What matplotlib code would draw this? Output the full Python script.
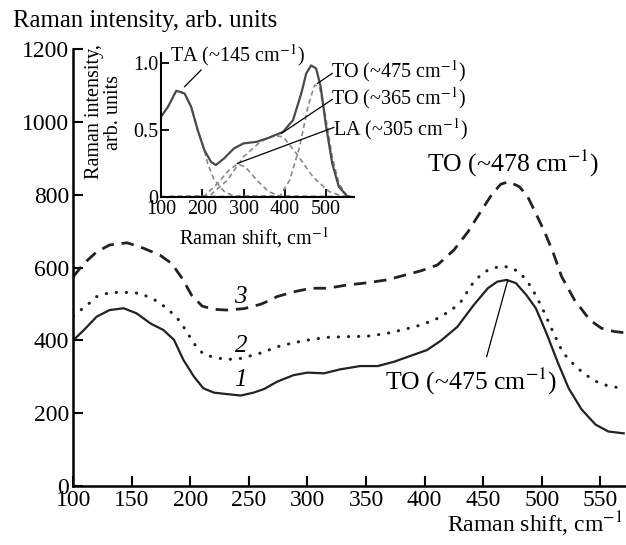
import matplotlib
matplotlib.use("Agg")
import matplotlib.pyplot as plt

plt.rcParams['font.family'] = 'serif'
plt.rcParams['font.serif'] = ['Liberation Serif', 'DejaVu Serif']
plt.rcParams['mathtext.fontset'] = 'stix'

# main spectra (Raman shift, intensity)
x1 = [100, 109, 120, 131, 143, 154, 166, 177, 186, 194, 203, 211, 220, 231, 243, 254, 263, 274,
      288, 300, 314, 328, 345, 360, 374, 388, 402, 414, 428, 442, 454, 462, 470, 478, 487, 495,
      504, 514, 523, 534, 546, 557, 570]
y1 = [400, 428, 465, 483, 488, 474, 446, 428, 401, 346, 300, 268, 256, 252, 248, 256, 266, 286,
      304, 311, 309, 320, 329, 329, 341, 357, 373, 399, 437, 497, 543, 561, 566, 557, 524, 488,
      420, 337, 268, 210, 168, 149, 144]

x2 = [100, 112, 120, 131, 143, 157, 169, 180, 189, 196, 203, 211, 220, 231, 243, 257, 263, 274,
      288, 303, 317, 334, 351, 368, 383, 397, 411, 423, 431, 443, 454, 465, 474, 482, 491, 500,
      509, 518, 527, 536, 547, 557, 565, 570]
y2 = [467, 497, 520, 531, 532, 529, 512, 488, 460, 428, 391, 362, 353, 347, 350, 362, 368, 382,
      393, 402, 408, 410, 411, 419, 430, 442, 460, 483, 506, 566, 593, 604, 600, 584, 547, 492,
      428, 366, 335, 308, 286, 274, 270, 268]

x3 = [100, 109, 120, 131, 146, 160, 174, 184, 193, 201, 210, 220, 231, 246, 260, 268, 274, 288,
      303, 317, 334, 351, 368, 383, 397, 411, 425, 437, 447, 457, 465, 472, 481, 488, 495, 503,
      510, 517, 528, 541, 551, 562, 570]
y3 = [575, 611, 643, 662, 668, 653, 634, 611, 570, 524, 494, 485, 483, 487, 499, 510, 520, 533,
      543, 543, 552, 558, 566, 579, 591, 607, 648, 698, 749, 799, 829, 836, 822, 795, 749, 694,
      639, 575, 511, 456, 433, 424, 421]

# inset: sum spectrum and its fitted components
xs = [100, 117, 137, 157, 173, 189, 205, 221, 233, 253, 277, 300, 332, 364, 396, 420, 440, 452,
      464, 476, 487, 499, 515, 531, 551, 560]
ys = [0.60, 0.675, 0.795, 0.775, 0.675, 0.50, 0.35, 0.262, 0.238, 0.288, 0.363, 0.40, 0.412,
      0.445, 0.487, 0.575, 0.775, 0.925, 0.985, 0.962, 0.825, 0.55, 0.25, 0.075, 0.005, 0.0]

x_ta = [100, 117, 137, 157, 173, 189, 205, 213, 229, 253, 277, 560]
y_ta = [0.60, 0.675, 0.795, 0.775, 0.675, 0.50, 0.35, 0.25, 0.125, 0.04, 0.005, 0]
x_la = [100, 205, 237, 265, 285, 304, 332, 360, 388, 560]
y_la = [0, 0.005, 0.10, 0.20, 0.245, 0.225, 0.125, 0.04, 0.005, 0]
x_to1 = [100, 217, 261, 300, 340, 372, 396, 428, 468, 507, 539, 560]
y_to1 = [0, 0.005, 0.125, 0.30, 0.41, 0.46, 0.45, 0.325, 0.15, 0.04, 0.005, 0]
x_to2 = [100, 388, 412, 436, 456, 472, 484, 499, 515, 531, 551, 560]
y_to2 = [0, 0.005, 0.125, 0.375, 0.675, 0.837, 0.825, 0.60, 0.30, 0.10, 0.005, 0]

main_xticks = [100, 150, 200, 250, 300, 350, 400, 450, 500, 550]
main_yticks = [0, 200, 400, 600, 800, 1000, 1200]
inset_xticks = [100, 200, 300, 400, 500]
inset_yticks = [0, 0.5, 1.0]
inset_yticklabels = ['0', '0.5', '1.0']

fig = plt.figure(figsize=(6.26, 5.45), dpi=100)
ax = fig.add_axes([0.1171, 0.1088, 0.8829, 0.8007])

ax.plot(x1, y1, color='#222222', lw=1.6, solid_joinstyle='round')
ax.plot(x2, y2, color='#222222', lw=2.2, linestyle=(0, (0.1, 3.2)), dash_capstyle='round')
ax.plot(x3, y3, color='#222222', lw=2.0, linestyle=(0, (4.5, 2.8)))

ax.set_xlim(100, 572)
ax.set_ylim(0, 1200)
ax.set_xticks(main_xticks)
ax.set_yticks(main_yticks)
for s in ['top', 'right']:
    ax.spines[s].set_visible(False)
for s in ['left', 'bottom']:
    ax.spines[s].set_linewidth(1.8)
ax.tick_params(direction='in', length=7, width=1.5, labelsize=17, pad=3)

ax.text(243, 520, '3', fontsize=18, style='italic', ha='center', va='center')
ax.text(243, 385, '2', fontsize=18, style='italic', ha='center', va='center')
ax.text(243, 291, '1', fontsize=18, style='italic', ha='center', va='center')
ax.text(402, 887, r'TO (~478 cm$^{-1}$)', fontsize=18.5, ha='left', va='center')
ax.text(366, 286, r'TO (~475 cm$^{-1}$)', fontsize=18.5, ha='left', va='center')
ax.plot([453, 471], [355, 565], color='black', lw=0.9)

fig.text(13 / 626, 0.951, 'Raman intensity, arb. units', fontsize=17.8, ha='left', va='baseline')
fig.text(0.995, 0.0226, r'Raman shift, cm$^{-1}$', fontsize=17, ha='right', va='baseline')

# inset
ins = fig.add_axes([0.2572, 0.639, 0.3078, 0.263])
ins.patch.set_alpha(0)
for xx, yy in [(x_ta, y_ta), (x_la, y_la), (x_to1, y_to1), (x_to2, y_to2)]:
    ins.plot(xx, yy, color='#8a8a8a', lw=1.2, linestyle=(0, (3, 2)))
ins.plot(xs, ys, color='#4a4a4a', lw=1.6, solid_joinstyle='round')

ins.set_xlim(100, 567)
ins.set_ylim(0, 1.075)
ins.set_xticks(inset_xticks)
ins.set_yticks(inset_yticks)
ins.set_yticklabels(inset_yticklabels)
for s in ['top', 'right']:
    ins.spines[s].set_visible(False)
for s in ['left', 'bottom']:
    ins.spines[s].set_linewidth(1.5)
ins.tick_params(direction='in', length=6, width=1.3, labelsize=14.5, pad=2)

ins.text(122, 1.06, r'TA (~145 cm$^{-1}$)', fontsize=14.5, ha='left', va='center', clip_on=False)
ins.text(513, 0.94, r'TO (~475 cm$^{-1}$)', fontsize=14.5, ha='left', va='center', clip_on=False)
ins.text(513, 0.74, r'TO (~365 cm$^{-1}$)', fontsize=14.5, ha='left', va='center', clip_on=False)
ins.text(517, 0.505, r'LA (~305 cm$^{-1}$)', fontsize=14.5, ha='left', va='center', clip_on=False)
ins.plot([157, 197], [0.825, 0.95], color='black', lw=0.9, clip_on=False)
ins.plot([479, 515], [0.85, 0.925], color='black', lw=0.9, clip_on=False)
ins.plot([392, 515], [0.475, 0.73], color='black', lw=0.9, clip_on=False)
ins.plot([285, 519], [0.25, 0.52], color='black', lw=0.9, clip_on=False)

fig.text(104 / 626, 1 - 112 / 545, 'Raman intensity,\narb. units', fontsize=14.5,
         rotation=90, ha='center', va='center', multialignment='center', linespacing=1.0)
fig.text(254 / 626, 1 - 238 / 545, r'Raman shift, cm$^{-1}$', fontsize=14.5, ha='center', va='center')

fig.savefig('out.png', dpi=100)
